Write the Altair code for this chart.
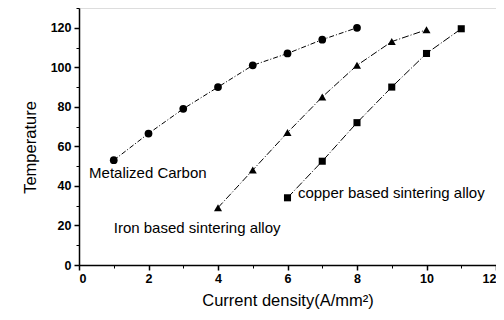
import altair as alt
import pandas as pd

# Data
carbon_x = [1, 2, 3, 4, 5, 6, 7, 8]
carbon_t = [53, 66.5, 79, 90, 101, 107, 114, 120]
iron_x = [4, 5, 6, 7, 8, 9, 10]
iron_t = [29, 48, 67, 85, 101, 113, 119]
copper_x = [6, 7, 8, 9, 10, 11]
copper_t = [34, 52.5, 72, 90, 107, 119.5]

labels = ["Metalized Carbon", "Iron based sintering alloy", "copper based sintering alloy"]
label_x = [0.29, 1.0, 6.3]
label_y = [46.5, 18.7, 36.4]

x_major = [0, 2, 4, 6, 8, 10, 12]
x_minor = [1, 3, 5, 7, 9, 11]
y_major = [0, 20, 40, 60, 80, 100, 120]
y_minor = [10, 30, 50, 70, 90, 110, 130]

FONT = "Liberation Sans"

xscale = alt.Scale(domain=[0, 12], nice=False, zero=False)
yscale = alt.Scale(domain=[0, 130], nice=False)

main_xaxis = alt.Axis(values=x_major, tickSize=5, title="Current density(A/mm²)",
                      labelFont=FONT, labelFontSize=12.5, labelFontWeight="bold",
                      titleFont=FONT, titleFontSize=16.5, titleFontWeight="normal",
                      titlePadding=8, grid=False, domainColor="black", tickColor="black",
                      labelColor="black", titleColor="black", domainWidth=1.5, tickWidth=1.5,
                      labelPadding=2, orient="bottom", labelFlush=True)
main_yaxis = alt.Axis(values=y_major, tickSize=5, title="Temperature",
                      labelFont=FONT, labelFontSize=12.5, labelFontWeight="bold",
                      titleFont=FONT, titleFontSize=16.5, titleFontWeight="normal",
                      titlePadding=12, titleY=139, grid=False, domainColor="black",
                      tickColor="black", labelColor="black", titleColor="black",
                      domainWidth=1.5, tickWidth=1.5, labelPadding=3, orient="left")
minor_xaxis = alt.Axis(values=x_minor, tickSize=3, labels=False, title=None, grid=False,
                       domain=False, tickColor="black", tickWidth=1, orient="bottom")
minor_yaxis = alt.Axis(values=y_minor, tickSize=3, labels=False, title=None, grid=False,
                       domain=False, tickColor="black", tickWidth=1, orient="left")


def series(xs, ts, shape, dash, size, first):
    df = pd.DataFrame({"x": xs, "t": ts})
    xa = main_xaxis if first else None
    ya = main_yaxis if first else None
    base = alt.Chart(df)
    line = base.mark_line(color="black", strokeWidth=1, strokeDash=dash).encode(
        x=alt.X("x:Q", scale=xscale, axis=xa),
        y=alt.Y("t:Q", scale=yscale, axis=ya),
    )
    pts = base.mark_point(shape=shape, filled=True, color="black", opacity=1, size=size).encode(
        x=alt.X("x:Q", scale=xscale, axis=None),
        y=alt.Y("t:Q", scale=yscale, axis=None),
    )
    return [line, pts]


layers = []
layers += series(carbon_x, carbon_t, "circle", [5, 2, 1, 2], 60, True)
layers += series(iron_x, iron_t, "triangle-up", [7, 2, 1, 2], 65, False)
layers += series(copper_x, copper_t, "square", [8, 2, 1, 2], 50, False)

lab_df = pd.DataFrame({"x": label_x, "t": label_y, "label": labels})
text = alt.Chart(lab_df).mark_text(align="left", baseline="middle", font=FONT,
                                   fontSize=15, color="black").encode(
    x=alt.X("x:Q", scale=xscale, axis=None),
    y=alt.Y("t:Q", scale=yscale, axis=None),
    text="label:N",
)
layers.append(text)

minor_df = pd.DataFrame({"x": [0], "t": [0]})
minor = alt.Chart(minor_df).mark_point(opacity=0).encode(
    x=alt.X("x:Q", scale=xscale, axis=minor_xaxis),
    y=alt.Y("t:Q", scale=yscale, axis=minor_yaxis),
)
layers.append(minor)

chart = alt.layer(*layers).resolve_axis(x="independent", y="independent").properties(
    width=417, height=257,
    autosize=alt.AutoSizeParams(type="none"),
    padding={"left": 71, "top": 0, "right": 0, "bottom": 47},
).configure_view(stroke="black", strokeWidth=1.5).configure(background="white")

chart.save("out.html", embed_options={"renderer": "svg", "actions": False})
